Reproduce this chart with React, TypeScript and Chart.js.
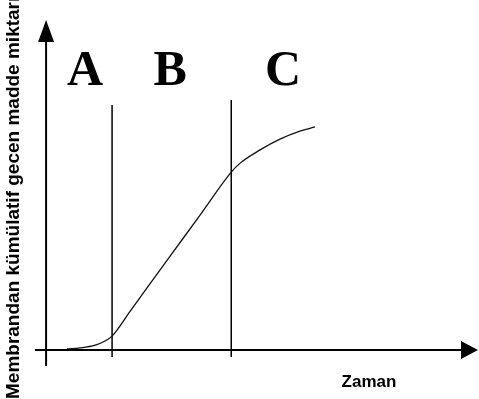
import React, { useEffect, useRef } from "react";
import { Chart, registerables } from "chart.js";

Chart.register(...registerables);

// Curve: cumulative amount through the membrane vs. time
const curveX = [4.7, 7.7, 11.1, 13.3, 14.9, 19.0, 27.3, 34.8, 41.8, 43.8, 48.3, 52.8, 57.3, 60.7];
const curveY = [0.3, 0.6, 1.4, 2.6, 4.0, 11.2, 25.8, 38.9, 51.2, 53.8, 57.6, 60.7, 63.0, 64.2];

// Phase boundaries (vertical lines)
const boundaryX = [14.9, 41.8];
const boundaryTop = [70.5, 72.0];
const boundaryBottom = -2.0;

// Phase labels
const phaseLabels = ["A", "B", "C"];
const phaseLabelX = [8.8, 28.0, 53.5];
const phaseLabelY = 76.3;

const xTitle = "Zaman";
const yTitle = "Membrandan kümülatif gecen madde miktarı";

const X_MIN = -2.5;
const X_MAX = 97.5;
const Y_MIN = -4.6;
const Y_MAX = 95;

const decorPlugin = {
  id: "decor",
  afterDatasetsDraw(chart: any) {
    const ctx = chart.ctx as CanvasRenderingContext2D;
    const xs = chart.scales.x;
    const ys = chart.scales.y;
    const x0 = xs.getPixelForValue(0);
    const y0 = ys.getPixelForValue(0);
    const area = chart.chartArea;
    ctx.save();
    ctx.strokeStyle = "#000";
    ctx.fillStyle = "#000";
    ctx.lineWidth = 2;
    // y axis
    ctx.beginPath();
    ctx.moveTo(x0, ys.getPixelForValue(Y_MIN));
    ctx.lineTo(x0, area.top + 12);
    ctx.stroke();
    ctx.beginPath();
    ctx.moveTo(x0, area.top);
    ctx.lineTo(x0 - 8, area.top + 22);
    ctx.lineTo(x0 + 8, area.top + 22);
    ctx.closePath();
    ctx.fill();
    // x axis
    ctx.beginPath();
    ctx.moveTo(xs.getPixelForValue(X_MIN), y0);
    ctx.lineTo(area.right - 10, y0);
    ctx.stroke();
    ctx.beginPath();
    ctx.moveTo(area.right, y0);
    ctx.lineTo(area.right - 17, y0 - 9);
    ctx.lineTo(area.right - 17, y0 + 9);
    ctx.closePath();
    ctx.fill();

    // phase letters
    ctx.font = 'bold 50px "Liberation Serif", "DejaVu Serif", serif';
    ctx.textAlign = "center";
    ctx.textBaseline = "alphabetic";
    phaseLabels.forEach((t, i) => {
      ctx.fillText(t, xs.getPixelForValue(phaseLabelX[i]), ys.getPixelForValue(phaseLabelY));
    });

    // axis titles
    ctx.font = 'bold 17px "Liberation Sans", Arial, sans-serif';
    ctx.textAlign = "center";
    ctx.fillText(xTitle, 369, 387);
    ctx.save();
    ctx.font = 'bold 19px "Liberation Sans", Arial, sans-serif';
    ctx.translate(19, 399);
    ctx.rotate(-Math.PI / 2);
    ctx.textAlign = "left";
    ctx.fillText(yTitle, 0, 0);
    ctx.restore();
    ctx.restore();
  },
};

export default function App() {
  const ref = useRef<HTMLCanvasElement>(null);
  useEffect(() => {
    document.body.style.margin = "0";
    const datasets: any[] = [
      {
        data: curveX.map((x, i) => ({ x, y: curveY[i] })),
        borderColor: "#111",
        borderWidth: 1.3,
        pointRadius: 0,
        cubicInterpolationMode: "monotone",
        fill: false,
      },
      ...boundaryX.map((bx, i) => ({
        data: [
          { x: bx, y: boundaryBottom },
          { x: bx, y: boundaryTop[i] },
        ],
        borderColor: "#000",
        borderWidth: 1.5,
        pointRadius: 0,
        fill: false,
      })),
    ];
    const chart = new Chart(ref.current!, {
      type: "line",
      data: { datasets },
      options: {
        animation: false,
        responsive: false,
        layout: { padding: { left: 35, right: 1, top: 20, bottom: 33 } },
        scales: {
          x: { type: "linear", min: X_MIN, max: X_MAX, display: false },
          y: { type: "linear", min: Y_MIN, max: Y_MAX, display: false },
        },
        plugins: { legend: { display: false }, tooltip: { enabled: false } },
      },
      plugins: [decorPlugin],
    });
    return () => chart.destroy();
  }, []);
  return (
    <div style={{ position: "absolute", left: 0, top: 0, width: 479, height: 399, background: "#fff" }}>
      <canvas ref={ref} width={479} height={399} />
    </div>
  );
}
